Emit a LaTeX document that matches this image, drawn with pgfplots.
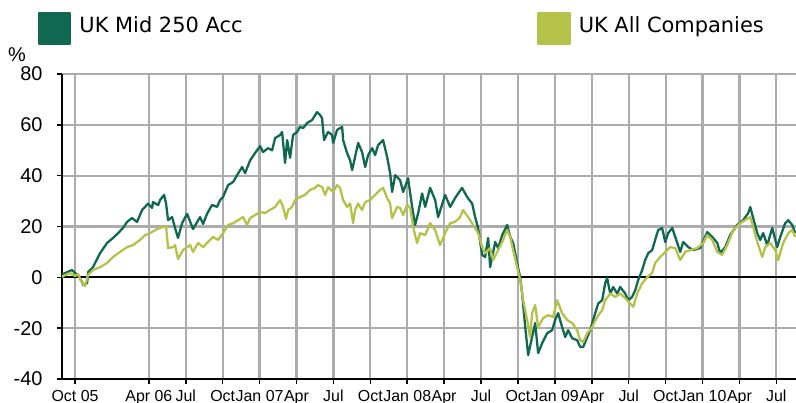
\documentclass[border=0pt]{standalone}
\usepackage{fontspec}
\setmainfont{Liberation Sans}
\newfontfamily\dejavu{DejaVu Sans}
\usepackage{pgfplots}
\pgfplotsset{compat=1.18}
\definecolor{midg}{RGB}{16,104,80}
\definecolor{allc}{RGB}{181,194,74}
\definecolor{gridg}{RGB}{172,172,172}
\pgfplotsset{
 every axis grid/.style={draw=gridg, line width=2.2pt},
 every major grid/.style={draw=gridg, line width=2.2pt},
 every tick/.style={draw=black, line width=1.5pt},
}
\begin{document}
\begin{tikzpicture}
\path[use as bounding box] (0,0) rectangle (796bp,403bp);
\begin{axis}[
 at={(62bp,24bp)}, anchor=south west,
 scale only axis, width=734bp, height=305bp,
 xmin=-1.06, xmax=58.6, ymin=-40, ymax=80,
 axis lines*=left,
 axis line style={black, line width=1.6pt},
 ytick={-40,-20,0,20,40,60,80},
 yticklabels={-40,-20,0,20,40,60,80},
 xtick={0,6,9,12,15,18,21,24,27,30,33,36,39,42,45,48,51,54,57},
 xticklabels={Oct 05,Apr 06,Jul,Oct,Jan 07,Apr,Jul,Oct,Jan 08,Apr,Jul,Oct,Jan 09,Apr,Jul,Oct,Jan 10,Apr,Jul},
 grid=major,
 tick align=outside, major tick length=5bp,
 yticklabel style={font=\fontsize{20}{20}\selectfont, anchor=east, xshift=-11bp},
 xticklabel style={font=\fontsize{16}{16}\selectfont, anchor=base, yshift=-17bp},
 extra y ticks={0}, extra y tick labels={},
 extra y tick style={major grid style={draw=black, line width=2pt}, major tick length=0pt},
 ylabel={\%},
 ylabel style={rotate=-90, at={(axis description cs:-0.0613,1.0393)}, anchor=base, font=\fontsize{20}{20}\selectfont, inner sep=0pt},
 legend style={at={(axis description cs:-0.0327,1.2033)}, anchor=north west, draw=none, fill=none, inner sep=0pt,
   nodes={inner sep=0pt, text height=15bp, text depth=8.6bp},
   font=\dejavu\fontsize{21}{21}\selectfont,
   /tikz/every odd column/.append style={column sep=8bp},
   /tikz/every even column/.append style={column sep=295bp}},
 legend columns=2,
 legend image code/.code={\fill[#1] (0bp,-15.5bp) rectangle (31bp,15.5bp);},
]
\addplot[color=midg, line width=2.3pt, line join=round] coordinates {
(-1.06,0.0)(-0.98,1.3)(-0.24,2.9)(0,1.7)(0.24,1.0)(0.57,-1.9)(0.65,-3.0)(0.98,-2.3)(1.06,2.0)(1.46,4.0)
(2.03,9.5)(2.60,13.5)(3.09,15.5)(3.50,17.4)(3.90,19.4)(4.23,21.8)(4.63,23.3)(5.04,21.8)(5.45,26.5)(5.69,27.7)
(5.93,29.0)(6.26,27.3)(6.34,29.6)(6.75,28.4)(6.91,30.4)(7.24,32.4)(7.40,29.0)(7.56,22.5)(7.89,23.7)(8.13,19.4)
(8.37,15.5)(8.70,21.3)(9.11,25.0)(9.59,19.0)(10.16,23.7)(10.41,21.0)(10.73,25.0)(11.14,28.5)(11.54,27.7)(11.79,30.4)
(12.03,31.6)(12.44,36.3)(12.85,37.5)(13.17,40.2)(13.58,43.4)(13.82,41.0)(14.23,46.0)(14.63,48.9)(15.04,51.6)(15.28,49.3)
(15.69,50.8)(16.02,50.0)(16.26,54.8)(16.67,56.0)(16.83,57.2)(17.07,45.0)(17.24,54.0)(17.48,47.0)(17.72,56.0)(18.05,57.2)
(18.29,59.2)(18.54,58.7)(18.86,60.7)(19.27,61.9)(19.67,65.0)(19.92,63.8)(20.08,62.6)(20.24,54.0)(20.57,57.2)(20.89,56.0)
(20.98,52.9)(21.30,58.0)(21.71,59.2)(21.79,54.0)(22.11,48.9)(22.36,46.0)(22.52,42.2)(22.76,47.3)(23.01,52.9)(23.33,49.3)
(23.58,43.4)(23.82,48.1)(24.15,50.8)(24.39,48.1)(24.63,52.0)(25.04,54.0)(25.37,47.3)(25.61,41.0)(25.77,33.6)(26.02,40.2)
(26.42,38.3)(26.67,33.6)(27.07,39.0)(27.40,27.7)(27.64,20.6)(27.89,25.3)(28.21,33.0)(28.46,27.7)(28.86,35.2)(29.27,30.4)
(29.51,23.7)(30.08,32.4)(30.49,27.7)(30.89,31.2)(31.46,35.2)(31.87,31.6)(32.28,29.0)(32.52,23.7)(32.76,19.4)(33.09,8.8)
(33.33,8.0)(33.58,15.5)(33.74,4.0)(34.15,13.9)(34.39,11.5)(34.72,16.6)(35.12,20.6)(35.37,15.9)(35.61,13.5)(35.93,5.6)
(36.18,0.0)(36.34,-6.4)(36.59,-19.6)(36.83,-30.6)(37.15,-23.5)(37.40,-18.0)(37.64,-29.8)(37.97,-25.9)(38.37,-22.0)(38.78,-20.8)
(39.02,-16.8)(39.27,-14.1)(39.59,-19.6)(39.84,-23.5)(40.08,-20.8)(40.41,-24.0)(40.81,-24.7)(41.06,-27.4)(41.30,-27.4)(41.63,-23.5)
(41.87,-20.8)(42.28,-14.1)(42.52,-10.3)(42.85,-9.0)(43.09,-2.3)(43.25,-0.3)(43.50,-6.4)(43.74,-3.8)(44.07,-6.4)(44.31,-3.8)
(44.72,-6.4)(44.96,-9.0)(45.28,-7.7)(45.53,-5.1)(45.77,-1.1)(46.10,2.9)(46.34,6.8)(46.59,9.5)(46.91,10.7)(47.15,14.7)
(47.40,18.6)(47.72,19.4)(47.97,13.9)(48.21,17.4)(48.54,19.4)(48.78,15.9)(49.19,10.0)(49.43,13.9)(49.84,11.9)(50.24,10.7)
(50.81,11.5)(51.38,17.8)(51.79,15.9)(52.20,13.5)(52.44,9.5)(52.85,11.9)(53.25,16.6)(53.82,20.6)(54.31,22.5)(54.72,25.3)
(54.88,27.7)(55.12,23.3)(55.45,17.4)(55.69,14.7)(55.93,17.4)(56.26,12.7)(56.67,19.4)(57.07,11.9)(57.32,15.9)(57.72,21.3)
(57.97,22.5)(58.29,20.6)(58.54,17.4)
};
\addlegendentry{UK Mid 250 Acc}
\addplot[color=allc, line width=2.3pt, line join=round] coordinates {
(-1.06,0.0)(-0.98,0.5)(-0.41,1.7)(0,0.5)(0.24,1.3)(0.57,-2.3)(0.81,-3.4)(1.06,1.0)(1.46,2.9)(2.03,4.0)
(2.60,5.6)(3.09,8.0)(3.66,10.0)(4.23,11.9)(4.72,12.7)(5.28,14.7)(5.69,16.6)(6.10,17.4)(6.67,19.0)(7.15,19.8)
(7.40,20.2)(7.56,11.5)(7.97,11.9)(8.13,12.7)(8.37,7.2)(8.78,10.7)(9.35,12.7)(9.59,10.0)(10.0,13.5)(10.41,11.9)
(10.81,13.9)(11.22,15.9)(11.63,14.7)(12.03,17.4)(12.44,20.6)(12.85,21.3)(13.25,22.5)(13.66,23.7)(13.98,20.6)(14.23,23.3)
(14.63,24.5)(15.04,25.7)(15.45,25.3)(15.85,26.5)(16.26,27.7)(16.67,30.4)(16.91,27.7)(17.15,23.0)(17.32,26.5)(17.64,27.7)
(17.89,30.4)(18.29,31.6)(18.70,32.4)(19.11,34.4)(19.51,35.2)(19.76,36.3)(20.08,35.5)(20.33,32.4)(20.57,35.5)(20.98,33.6)
(21.30,36.3)(21.54,35.2)(21.79,30.4)(22.11,27.7)(22.36,29.0)(22.60,21.3)(22.76,26.5)(23.01,29.0)(23.33,26.5)(23.58,29.6)
(23.98,30.4)(24.39,32.4)(24.80,34.4)(25.04,35.2)(25.37,31.2)(25.61,29.0)(25.77,23.3)(26.18,27.7)(26.42,27.3)(26.67,24.5)
(26.99,28.5)(27.24,27.3)(27.48,19.8)(27.80,13.5)(28.05,17.4)(28.46,16.6)(28.86,21.3)(29.27,18.6)(29.67,12.7)(30.08,17.4)
(30.49,21.3)(30.89,21.8)(31.30,23.7)(31.54,26.5)(31.95,23.7)(32.36,20.6)(32.76,17.4)(33.09,11.9)(33.33,9.5)(33.74,11.5)
(33.98,6.8)(34.39,10.7)(34.72,13.9)(35.12,18.6)(35.37,15.9)(35.61,10.7)(35.93,4.0)(36.18,-1.1)(36.42,-9.0)(36.75,-16.8)
(36.99,-23.5)(37.15,-14.1)(37.40,-10.9)(37.64,-19.6)(38.05,-16.0)(38.46,-14.9)(38.86,-15.6)(39.19,-9.0)(39.59,-14.1)(40.0,-16.8)
(40.41,-18.0)(40.81,-20.8)(41.06,-24.7)(41.30,-25.5)(41.63,-22.0)(42.03,-19.6)(42.44,-15.6)(42.85,-12.9)(43.09,-9.0)(43.50,-6.4)
(43.90,-7.7)(44.31,-6.4)(44.72,-8.2)(45.12,-10.3)(45.37,-11.6)(45.69,-6.4)(46.10,-2.3)(46.50,0.0)(46.91,1.7)(47.15,5.6)
(47.56,8.0)(47.97,10.0)(48.37,11.9)(48.78,11.5)(49.19,6.8)(49.59,10.0)(50.0,10.7)(50.57,11.5)(51.06,13.5)(51.38,16.6)
(51.79,14.7)(52.20,10.0)(52.60,8.8)(53.01,12.7)(53.50,18.6)(54.07,21.3)(54.47,22.5)(54.88,23.7)(55.12,19.8)(55.45,13.9)
(55.85,8.0)(56.10,11.9)(56.50,13.5)(56.91,10.7)(57.15,6.8)(57.56,13.5)(57.97,17.4)(58.29,18.6)(58.54,15.9)
};
\addlegendentry{UK All Companies}
\end{axis}
\end{tikzpicture}
\end{document}
